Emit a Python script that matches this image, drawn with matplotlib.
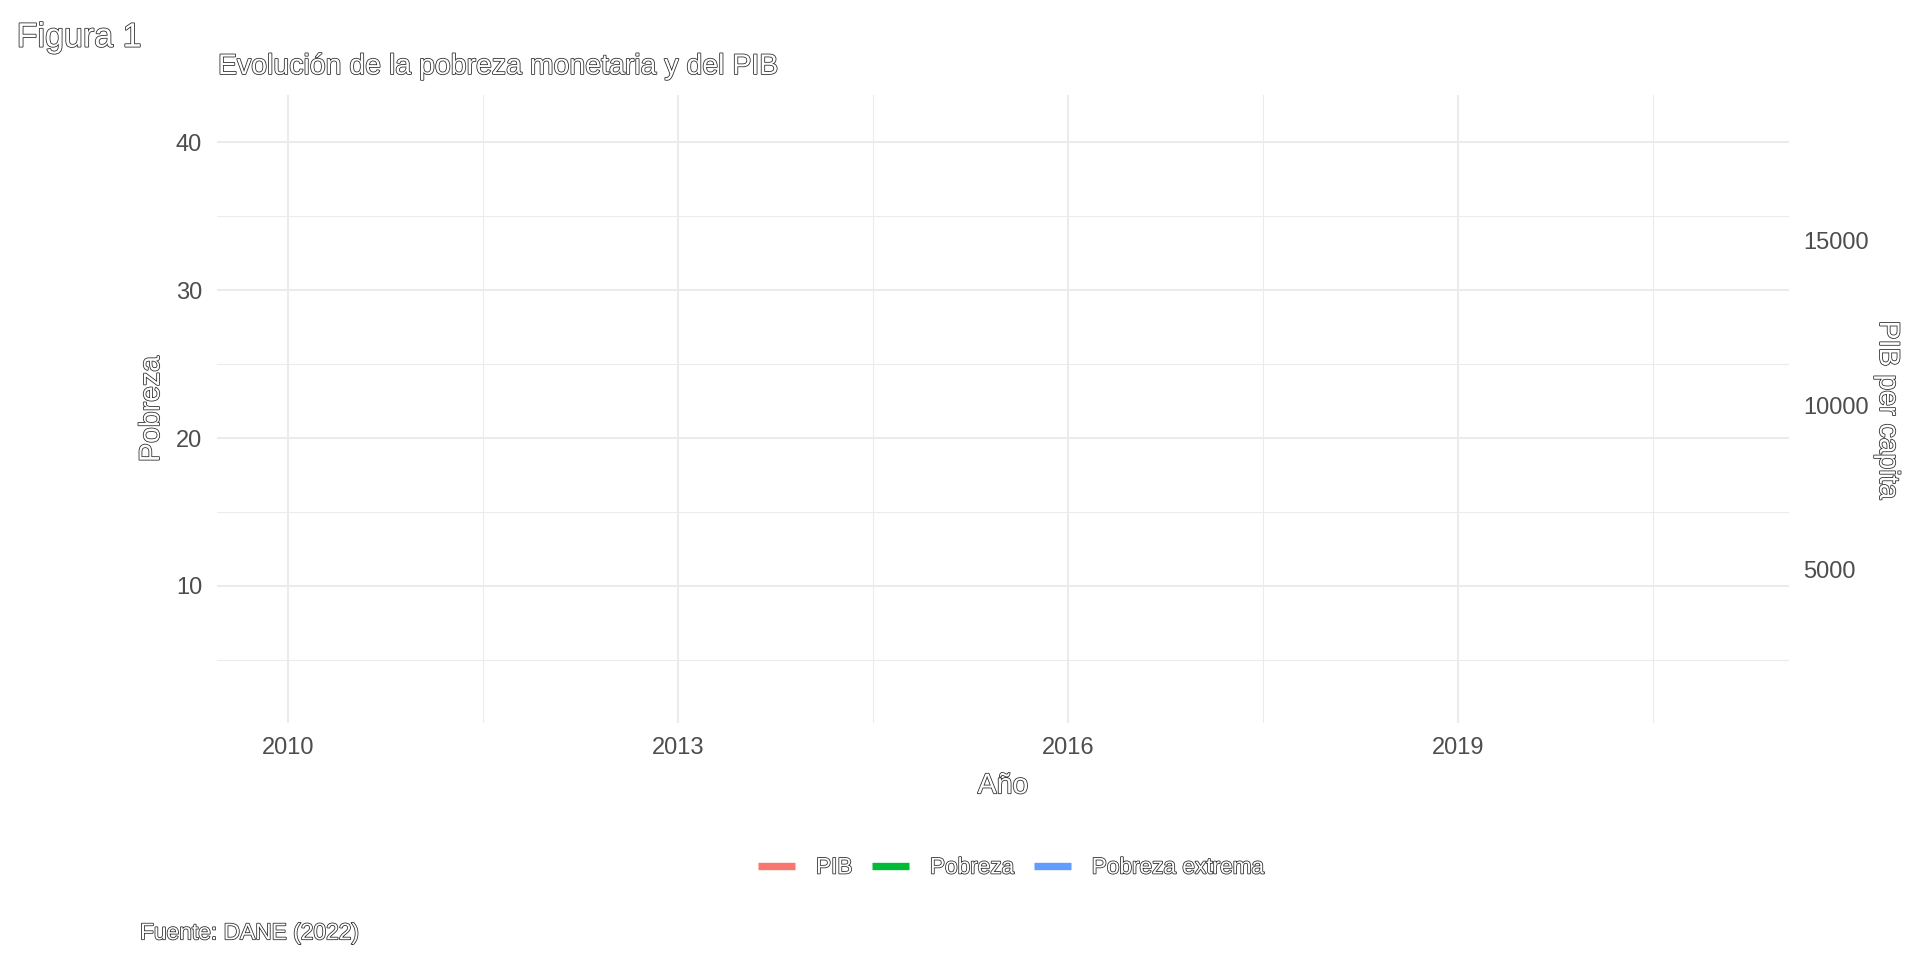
import matplotlib
matplotlib.use("Agg")
import matplotlib.pyplot as plt
import matplotlib.patheffects as pe
from matplotlib.lines import Line2D
import numpy as np

plt.rcParams['font.family'] = ['Liberation Sans', 'DejaVu Sans']

# datos
anios = np.arange(2010, 2022)
pobreza_min, pobreza_max = 2.68, 41.27   # rango del eje izquierdo
factor_pib = 450                         # eje secundario: PIB = Pobreza * 450
ticks_x = [2010, 2013, 2016, 2019]
ticks_y = [10, 20, 30, 40]
ticks_pib = [5000, 10000, 15000]
series = ["PIB", "Pobreza", "Pobreza extrema"]
colores = ["#F8766D", "#00BA38", "#619CFF"]

titulo = "Figura 1"
subtitulo = "Evolución de la pobreza monetaria y del PIB"
fuente = "Fuente: DANE (2022)"

hueco = [pe.Stroke(linewidth=1.15, foreground="#2a2a2a"), pe.Normal()]

fig = plt.figure(figsize=(19.2, 9.6), dpi=100)
ax = fig.add_axes([0.1129, 0.2472, 0.8189, 0.6538])

# limites con expansion de 5% (como ggplot)
dx = (anios.max() - anios.min()) * 0.05
ax.set_xlim(anios.min() - dx, anios.max() + dx)
dy = (pobreza_max - pobreza_min) * 0.05
ax.set_ylim(pobreza_min - dy, pobreza_max + dy)

ax.set_xticks(ticks_x)
ax.set_xticks([t + 1.5 for t in ticks_x], minor=True)
ax.set_yticks(ticks_y)
ax.set_yticks([t - 5 for t in ticks_y], minor=True)

ax.grid(which="major", color="#EBEBEB", linewidth=1.45)
ax.grid(which="minor", color="#EBEBEB", linewidth=0.75)
ax.set_axisbelow(True)
for s in ax.spines.values():
    s.set_visible(False)
ax.tick_params(which="both", length=0, labelsize=17, labelcolor="#4D4D4D")
ax.tick_params(axis="y", pad=10.6)
ax.tick_params(axis="x", pad=10.5)

sec = ax.secondary_yaxis("right", functions=(lambda y: y * factor_pib, lambda p: p / factor_pib))
sec.set_yticks(ticks_pib)
sec.tick_params(length=0, labelsize=17, labelcolor="#4D4D4D", pad=9.9)
for s in sec.spines.values():
    s.set_visible(False)

# textos
fig.text(16.7 / 1920, 1 - 46.7 / 960, titulo, fontsize=24.5, color="white",
         ha="left", va="baseline", path_effects=hueco)
fig.text(218 / 1920, 1 - 74 / 960, subtitulo, fontsize=20.5, color="white",
         ha="left", va="baseline", path_effects=hueco)
fig.text(1003 / 1920, 1 - 793.3 / 960, "Año", fontsize=20.5, color="white",
         ha="center", va="baseline", path_effects=hueco)
fig.text(152 / 1920, 1 - 409 / 960, "Pobreza", fontsize=20.5, color="white",
         ha="center", va="center", rotation=90, path_effects=hueco)
fig.text(1887 / 1920, 1 - 410 / 960, "PIB per capita", fontsize=20.5, color="white",
         ha="center", va="center", rotation=-90, path_effects=hueco)
fig.text(140 / 1920, 1 - 939.3 / 960, fuente, fontsize=16.4, color="white",
         ha="left", va="baseline", path_effects=hueco)

# leyenda
handles = [Line2D([], [], color=c, linewidth=5.3, solid_capstyle="butt") for c in colores]
leg = fig.legend(handles, series, loc="center", bbox_to_anchor=(1011 / 1920, 1 - 867 / 960),
                 ncol=3, frameon=False, fontsize=16.3, handlelength=1.64,
                 handletextpad=0.93, columnspacing=0.85)
for t in leg.get_texts():
    t.set_color("white")
    t.set_path_effects(hueco)

fig.savefig("out.png", dpi=100, facecolor="white")
